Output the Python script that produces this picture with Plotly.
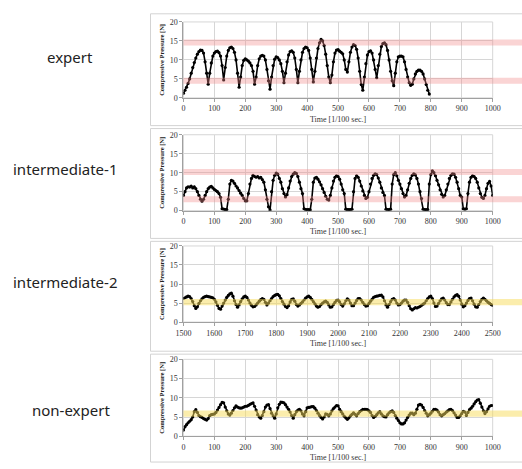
import plotly.graph_objects as go

# Compressive pressure [N] sampled every 5 (1/100 sec.)
SAMPLE_STEP = 5

expert_start = 0
expert_pressure = [
    1.2, 2.0, 2.8, 3.8, 5.0, 6.5, 8.0, 9.3, 10.5, 11.5, 12.2, 12.6, 12.5, 11.8, 9.5, 6.5, 3.6,
    6.5, 9.2, 11.0, 11.8, 12.2, 12.3, 11.9, 11.0, 8.5, 4.7,
    8.0, 11.0, 12.5, 13.2, 13.4, 13.0, 12.0, 10.0, 6.5, 2.8,
    5.5, 8.5, 9.9, 10.3, 10.0, 9.7, 9.2, 8.5, 7.0, 3.6,
    5.5, 8.5, 10.3, 11.0, 11.2, 11.0, 10.0, 7.5, 4.5, 2.3,
    5.5, 8.5, 10.2, 10.8, 10.6, 10.0, 9.0, 7.0, 4.0,
    6.5, 9.5, 11.3, 12.2, 12.4, 12.0, 10.5, 7.5, 4.0,
    7.0, 10.0, 12.0, 13.0, 13.4, 13.2, 12.5, 10.5, 7.5, 4.2,
    7.0, 10.5, 13.0, 14.5, 15.4, 15.0, 13.8, 11.5, 8.5, 5.5, 4.0, 6.0,
    9.5, 11.8, 12.6, 12.7, 12.3, 12.0, 11.6, 10.0, 7.5, 6.8,
    9.5, 12.0, 13.4, 14.0, 13.8, 12.8, 10.5, 7.0, 3.5, 2.0,
    5.5, 9.0, 11.3, 12.2, 12.4, 11.8, 10.0, 7.5, 5.3,
    8.5, 11.5, 13.5, 14.3, 14.5, 14.0, 12.5, 10.0, 7.0, 4.5, 3.2,
    6.5, 9.5, 10.8, 11.0, 11.0, 10.8, 9.5, 7.5, 5.5, 4.0, 3.3, 3.6,
    5.0, 6.3, 7.0, 7.3, 7.3, 7.0, 6.3, 5.0, 3.5, 2.0, 1.0,
]

inter1_start = 0
inter1_pressure = [
    4.0, 5.0, 6.0, 6.3, 6.2, 6.5, 6.0, 6.3, 5.8, 5.0, 4.0, 3.0, 2.5, 3.0, 4.0, 5.0, 5.8, 6.2, 6.4, 6.0,
    5.6, 5.3, 5.0, 4.5, 3.5, 0.5, 0.4, 0.3, 0.3, 3.0, 7.0, 8.0, 7.8, 7.2, 6.5, 6.0, 5.3, 4.6, 4.0, 3.2,
    2.6, 2.6, 4.5, 7.0, 8.5, 9.3, 9.0, 8.8, 9.0, 8.6, 8.8, 8.2, 7.5, 5.5, 3.0, 1.0, 0.2, 5.0, 8.0, 9.3,
    9.9, 9.6, 8.5, 7.5, 5.8, 4.5, 3.6, 4.2, 6.0, 7.8, 9.0, 9.6, 10.0, 9.8, 9.0, 7.5, 5.8, 4.5, 0.5, 0.3,
    0.3, 0.3, 0.2, 3.0, 7.5, 8.6, 8.8, 8.3, 7.6, 6.8, 5.8, 4.8, 3.8, 3.0, 2.8, 4.0, 6.0, 7.8, 8.8, 9.2,
    9.0, 8.3, 7.0, 5.5, 4.5, 0.4, 0.3, 0.3, 0.3, 0.4, 5.0, 8.5, 9.2, 8.8, 7.8, 6.5, 5.2, 4.0, 3.2, 3.5,
    5.0, 7.0, 8.5, 9.3, 9.7, 9.5, 8.6, 7.5, 6.0, 4.8, 4.0, 0.4, 0.3, 0.3, 0.4, 7.0, 9.5, 10.0, 9.2, 8.0,
    7.0, 5.8, 4.5, 3.6, 4.0, 5.5, 7.2, 8.5, 9.3, 9.7, 9.4, 8.5, 7.0, 5.0, 3.2, 0.4, 0.3, 0.3, 0.3, 7.0,
    9.5, 10.5, 10.0, 9.2, 8.0, 6.8, 5.5, 4.3, 3.6, 4.0, 5.5, 7.0, 8.5, 9.3, 9.7, 9.6, 8.8, 7.5, 5.8, 4.0,
    3.6, 0.5, 0.4, 0.5, 4.5, 7.5, 8.8, 9.2, 9.0, 8.5, 7.5, 6.0, 4.5, 3.5, 3.2, 4.0, 5.8, 7.2, 7.7, 6.5,
    4.0,
]

inter2_start = 1500
inter2_pressure = [
    6.2, 6.4, 6.6, 6.8, 6.7, 6.2, 5.4, 4.3, 3.6, 4.0, 4.9, 5.6, 6.1, 6.5, 6.7, 6.8, 6.7, 6.6, 6.5, 6.4,
    6.0, 5.3, 4.4, 3.6, 3.4, 4.2, 5.0, 5.8, 6.5, 7.0, 7.4, 7.6, 6.8, 5.6, 4.6, 3.9, 4.5, 5.4, 6.1, 6.6,
    6.8, 6.5, 5.8, 5.0, 4.4, 4.0, 4.1, 4.5, 5.0, 5.5, 5.9, 6.2, 6.0, 5.2, 4.5, 5.0, 5.6, 6.2, 6.7, 7.0,
    7.2, 7.3, 6.9, 6.2, 5.4, 4.7, 4.1, 3.8, 4.3, 5.3, 6.0, 6.1, 5.5, 4.6, 4.2, 4.5, 4.9, 5.3, 5.8, 6.3,
    6.6, 6.8, 6.5, 6.0, 5.4, 4.8, 4.2, 3.9, 4.1, 4.6, 5.0, 5.3, 5.5, 5.2, 4.5, 3.9, 4.0, 4.6, 5.2, 5.7,
    5.8, 5.3, 4.6, 4.2, 4.8, 5.6, 6.1, 5.8, 5.0, 4.3, 4.3, 5.0, 5.7, 6.2, 6.2, 5.8, 5.2, 4.6, 4.2, 4.3,
    4.9, 5.5, 6.0, 6.5, 6.7, 6.8, 6.9, 7.0, 7.1, 6.6, 5.6, 4.5, 3.9, 4.6, 5.4, 6.0, 6.2, 5.8, 5.0, 4.5,
    4.6, 5.0, 5.5, 5.8, 5.8, 5.2, 4.3, 3.5, 3.2, 3.5, 3.8, 3.7, 3.9, 4.1, 4.4, 4.7, 5.0, 5.6, 6.2, 6.6,
    6.8, 6.2, 5.0, 4.1, 4.2, 4.9, 5.6, 6.1, 6.3, 5.8, 5.1, 4.6, 4.6, 5.3, 6.0, 6.6, 7.0, 7.2, 6.8, 5.8,
    4.7, 4.0, 4.3, 5.0, 5.7, 6.2, 6.3, 5.6, 4.7, 4.0, 3.9, 4.6, 5.4, 6.0, 6.3, 6.0, 5.6, 5.2, 4.9, 4.6,
    4.4,
]

nonexpert_start = 0
nonexpert_pressure = [
    1.6, 2.5, 3.0, 3.5, 3.9, 4.3, 5.0, 6.4, 6.9, 6.2, 5.4, 5.1, 4.9, 4.6, 4.4, 4.2, 4.6, 5.4, 5.6, 5.7,
    5.8, 6.2, 6.8, 7.5, 8.2, 8.8, 8.7, 7.6, 6.6, 5.8, 5.5, 6.0, 6.7, 7.4, 7.9, 7.6, 7.4, 7.3, 7.4, 7.6,
    7.8, 7.8, 8.0, 8.3, 8.5, 8.7, 7.8, 6.8, 5.6, 5.0, 4.7, 5.4, 6.4, 7.6, 8.1, 8.2, 7.2, 6.0, 5.3, 4.7,
    5.8, 7.4, 8.3, 8.9, 8.8, 8.7, 8.2, 7.6, 7.0, 6.3, 5.4, 4.7, 5.6, 6.4, 6.8, 7.0, 6.6, 5.8, 5.3, 6.4,
    7.4, 7.5, 7.6, 7.7, 7.7, 7.3, 6.7, 6.0, 5.4, 4.9, 4.5, 5.0, 5.8, 5.7, 5.3, 5.8, 6.6, 7.2, 7.6, 8.0,
    7.9, 7.0, 6.4, 5.8, 5.2, 4.8, 4.4, 4.8, 5.3, 5.7, 6.1, 5.7, 5.3, 5.9, 6.4, 6.7, 7.0, 7.0, 7.0, 6.9,
    6.6, 6.2, 5.4, 4.9, 5.2, 5.6, 6.1, 6.4, 5.8, 5.3, 5.1, 5.0, 5.6, 6.1, 6.4, 6.6, 6.2, 5.4, 4.7, 4.1,
    3.5, 3.2, 3.2, 3.5, 4.2, 4.9, 5.5, 6.0, 6.0, 5.6, 6.0, 7.0, 8.1, 8.3, 8.1, 7.5, 6.7, 6.0, 5.3, 5.6,
    6.0, 6.5, 7.0, 7.0, 6.8, 6.3, 5.6, 5.3, 5.6, 5.9, 6.3, 6.6, 6.9, 7.0, 6.7, 6.1, 5.5, 4.9, 4.9, 5.3,
    5.9, 6.5, 6.3, 5.4, 6.2, 6.9, 7.3, 7.8, 8.4, 9.0, 9.4, 9.5, 8.6, 7.6, 6.6, 5.9, 6.4, 7.1, 7.8, 8.0,
    8.0,
]

# Target pressure levels shown as bands across each panel
expert_levels = [14.6, 4.5]
inter1_levels = [10.2, 3.0]
inter2_levels = [5.25]
nonexpert_levels = [5.9]

group_labels = ["expert", "intermediate-1", "intermediate-2", "non-expert"]
x_ranges = [[0, 1000], [0, 1000], [1500, 2500], [0, 1000]]
y_range = [0, 20]
y_tick_step = 5
x_tick_step = 100

PINK = "rgba(242,135,135,0.36)"
YELLOW = "rgba(248,220,90,0.5)"

series = [
    (expert_start, expert_pressure, expert_levels, PINK),
    (inter1_start, inter1_pressure, inter1_levels, PINK),
    (inter2_start, inter2_pressure, inter2_levels, YELLOW),
    (nonexpert_start, nonexpert_pressure, nonexpert_levels, YELLOW),
]

# Panel layout (pixel rows of each plot area, and outer frame boxes)
W, H = 522, 469
plot_left, plot_right = 181, 500
plot_rows = [(18.3, 95.7), (133.3, 210.7), (246.7, 324.3), (362.3, 440.7)]
frame_rows = [(10, 124), (127, 239), (242, 354), (357, 467)]
label_pos = [(64, 54), (59, 168), (59, 283), (65, 414)]

serif = "Liberation Serif, Times New Roman, serif"

fig = go.Figure()
layout = dict(
    width=W, height=H,
    margin=dict(l=0, r=0, t=0, b=0),
    paper_bgcolor="white", plot_bgcolor="white",
    showlegend=False,
    shapes=[], annotations=[],
)

for i, (start, values, levels, band_color) in enumerate(series):
    n = i + 1
    xa = "xaxis" if n == 1 else f"xaxis{n}"
    ya = "yaxis" if n == 1 else f"yaxis{n}"
    xr = "x" if n == 1 else f"x{n}"
    yr = "y" if n == 1 else f"y{n}"
    times = [start + SAMPLE_STEP * k for k in range(len(values))]

    fig.add_trace(go.Scatter(
        x=times, y=values, xaxis=xr, yaxis=yr,
        mode="lines+markers",
        line=dict(color="black", width=1.6),
        marker=dict(color="black", size=3.2),
        hoverinfo="skip",
    ))

    top, bottom = plot_rows[i]
    layout[xa] = dict(
        domain=[plot_left / W, plot_right / W], anchor=yr,
        range=x_ranges[i], dtick=x_tick_step, tick0=x_ranges[i][0],
        showgrid=True, gridcolor="#d6d6d6", gridwidth=1,
        showline=True, linecolor="#a0a0a0", linewidth=1,
        ticks="outside", ticklen=3, tickcolor="#a0a0a0",
        tickfont=dict(family=serif, size=8, color="#333"),
        title=dict(text="Time [1/100 sec.]", font=dict(family=serif, size=8, color="#333"), standoff=3),
        zeroline=False, fixedrange=True,
    )
    layout[ya] = dict(
        domain=[1 - bottom / H, 1 - top / H], anchor=xr,
        range=y_range, dtick=y_tick_step,
        showgrid=True, gridcolor="#d6d6d6", gridwidth=1,
        showline=True, linecolor="#a0a0a0", linewidth=1,
        ticks="outside", ticklen=3, tickcolor="#a0a0a0",
        tickfont=dict(family=serif, size=8, color="#333"),
        title=dict(text="<b>Compressive Pressure [N]</b>", font=dict(family=serif, size=6.5, color="#222"), standoff=4),
        zeroline=False, fixedrange=True,
        mirror=False,
    )
    # plot area frame (top and right gridline edges)
    layout["shapes"].append(dict(
        type="rect", xref=f"{xr} domain", yref=f"{yr} domain",
        x0=0, x1=1, y0=0, y1=1, line=dict(color="#d6d6d6", width=1), layer="below",
    ))
    for c in levels:
        layout["shapes"].append(dict(
            type="rect", xref=f"{xr} domain", yref=yr,
            x0=0, x1=1.2, y0=c - 0.8, y1=c + 0.8,
            fillcolor=band_color, line=dict(width=0), layer="above",
        ))

    ft, fb = frame_rows[i]
    layout["shapes"].append(dict(
        type="rect", xref="paper", yref="paper",
        x0=147 / W, x1=1.02, y0=1 - fb / H, y1=1 - ft / H,
        line=dict(color="#d3d3d3", width=1), layer="below",
    ))

    lx, ly = label_pos[i]
    layout["annotations"].append(dict(
        text=group_labels[i], x=lx / W, y=1 - ly / H, xref="paper", yref="paper",
        showarrow=False, xanchor="center", yanchor="middle",
        font=dict(family="Noto Sans, Liberation Sans, sans-serif", size=15, color="#222"),
    ))

fig.update_layout(**layout)
fig.write_html("out.html")
